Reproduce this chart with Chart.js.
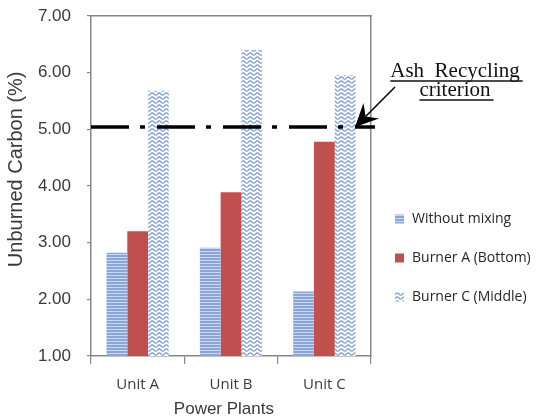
<!DOCTYPE html>
<html>
<head>
<meta charset="utf-8">
<script src="https://cdn.jsdelivr.net/npm/chart.js@4.4.1/dist/chart.umd.min.js"></script>
<style>
  html, body { margin: 0; padding: 0; background: #fff; }
  #wrap { width: 537px; height: 420px; position: relative; }
</style>
</head>
<body>
<div id="wrap"><canvas id="carbon-chart"></canvas></div>
<script>
const units = ["Unit A", "Unit B", "Unit C"];
const seriesNames = ["Without mixing", "Burner A (Bottom)", "Burner C (Middle)"];
const withoutMixing = [2.82, 2.91, 2.14];
const burnerA = [3.2, 3.89, 4.78];
const burnerC = [5.68, 6.4, 5.96];
const yTicks = [1, 2, 3, 4, 5, 6, 7];
const criterion = 5.04;
const noteLines = ["Ash  Recycling", "criterion"];

const canvas = document.getElementById("carbon-chart");
const ctx = canvas.getContext("2d");

const Config = {
  colors: {
    axis: "#868686",
    text: "#3a3a3a",
    red: "#c0504d",
    stripe: "#8aa6d8",
    stripeLight: "#cbd8ef",
    wave: "#7f9dd3",
  },
  sans: "'Liberation Sans', Arial, sans-serif",
  ui: "'Open Sans', sans-serif",
  serif: "'Liberation Serif', 'Times New Roman', serif",
};

const makePattern = (w, h, paint) => {
  const c = document.createElement("canvas");
  c.width = w;
  c.height = h;
  paint(c.getContext("2d"), w, h);
  return ctx.createPattern(c, "repeat");
};

// horizontal lines
const stripes = makePattern(4, 3, (g, w, h) => {
  g.fillStyle = Config.colors.stripeLight;
  g.fillRect(0, 0, w, h);
  g.fillStyle = Config.colors.stripe;
  g.fillRect(0, 0, w, 2);
});

// wavy lines on white
const waves = makePattern(7, 4, (g, w, h) => {
  g.fillStyle = "#ffffff";
  g.fillRect(0, 0, w, h);
  g.strokeStyle = Config.colors.wave;
  g.lineWidth = 1.3;
  g.beginPath();
  for (let x = -1; x <= w + 1; x += 0.5) {
    const y = h / 2 + 1.1 * Math.sin((x / w) * 2 * Math.PI);
    if (x === -1) g.moveTo(x, y);
    else g.lineTo(x, y);
  }
  g.stroke();
});

const overlay = {
  id: "overlay",
  afterDatasetsDraw(chart) {
    const { ctx: c, chartArea: area, scales } = chart;
    const yc = scales.y.getPixelForValue(criterion);
    c.save();

    // criterion dash-dot line
    c.strokeStyle = "#000";
    c.lineWidth = 3.5;
    c.setLineDash([38, 11, 5, 12]);
    c.beginPath();
    c.moveTo(area.left, yc);
    c.lineTo(area.right + 4, yc);
    c.stroke();
    c.setLineDash([]);

    // arrow
    const tipX = area.right - 16, tipY = yc;
    const fromX = area.right + 24, fromY = yc - 40;
    const ang = Math.atan2(tipY - fromY, tipX - fromX);
    c.lineWidth = 1.5;
    c.beginPath();
    c.moveTo(fromX, fromY);
    c.lineTo(tipX - 15 * Math.cos(ang), tipY - 15 * Math.sin(ang));
    c.stroke();
    const len = 23, half = 11;
    const bx = tipX - len * Math.cos(ang), by = tipY - len * Math.sin(ang);
    const nx = -Math.sin(ang), ny = Math.cos(ang);
    c.fillStyle = "#000";
    c.beginPath();
    c.moveTo(tipX, tipY);
    c.lineTo(bx + nx * half, by + ny * half);
    c.lineTo(tipX - 15 * Math.cos(ang), tipY - 15 * Math.sin(ang));
    c.lineTo(bx - nx * half, by - ny * half);
    c.closePath();
    c.fill();

    // note text, underlined
    const cx = area.right + 84;
    c.font = "21px " + Config.serif;
    c.textAlign = "center";
    c.textBaseline = "alphabetic";
    c.fillStyle = "#111";
    c.strokeStyle = "#111";
    c.lineWidth = 1.4;
    noteLines.forEach((t, i) => {
      const base = yc - 50 + i * 19;
      c.fillText(t, cx, base);
      const w = c.measureText(t).width;
      c.beginPath();
      c.moveTo(cx - w / 2, base + 4);
      c.lineTo(cx + w / 2 + 3, base + 4);
      c.stroke();
    });

    // legend
    const lx = area.right + 24;
    c.font = "14px " + Config.ui;
    c.textAlign = "left";
    c.textBaseline = "middle";
    chart.data.datasets.forEach((ds, i) => {
      const ly = 219 + i * 39;
      c.fillStyle = ds.backgroundColor;
      c.fillRect(lx, ly - 4.5, 9, 9);
      c.fillStyle = "#262626";
      c.fillText(ds.label, lx + 17, ly);
    });

    c.restore();
  },
};

new Chart(ctx, {
  type: "bar",
  data: {
    labels: units,
    datasets: [
      { label: seriesNames[0], data: withoutMixing, backgroundColor: stripes },
      { label: seriesNames[1], data: burnerA, backgroundColor: Config.colors.red },
      { label: seriesNames[2], data: burnerC, backgroundColor: waves },
    ],
  },
  options: {
    responsive: true,
    maintainAspectRatio: false,
    animation: false,
    layout: { padding: { top: 16, right: 166, left: 0, bottom: 0 } },
    datasets: { bar: { categoryPercentage: 0.667, barPercentage: 1 } },
    plugins: {
      legend: { display: false },
      tooltip: { enabled: false },
    },
    scales: {
      x: {
        grid: { drawOnChartArea: false, tickLength: 8, color: Config.colors.axis, lineWidth: 1.2 },
        border: { color: Config.colors.axis, width: 1.5 },
        ticks: { padding: 12, color: Config.colors.text, font: { family: Config.ui, size: 15 } },
        title: {
          display: true,
          text: "Power Plants   ",
          color: Config.colors.text,
          font: { family: Config.sans, size: 17 },
          padding: { top: 0, bottom: 0 },
        },
        afterFit: (s) => { s.height = 64; },
      },
      y: {
        min: 1,
        max: 7,
        afterBuildTicks: (s) => { s.ticks = yTicks.map((v) => ({ value: v })); },
        grid: { drawOnChartArea: false, tickLength: 4, color: Config.colors.axis, lineWidth: 1.2 },
        border: { color: Config.colors.axis, width: 1.5 },
        ticks: {
          padding: 16,
          color: Config.colors.text,
          font: { family: Config.sans, size: 17 },
          callback: (v) => Number(v).toFixed(2),
        },
        title: {
          display: true,
          text: "      Unburned Carbon (%)",
          color: Config.colors.text,
          font: { family: Config.sans, size: 20 },
          padding: { top: 4, bottom: 0 },
        },
        afterFit: (s) => {
          s.width = 91;
          s.paddingTop = 0;
          s.paddingBottom = 0;
        },
      },
      x2: {
        position: "top",
        grid: { display: false },
        ticks: { display: false },
        border: { color: Config.colors.axis, width: 1.5 },
        afterFit: (s) => { s.height = 0; },
      },
      y2: {
        position: "right",
        grid: { display: false },
        ticks: { display: false },
        border: { color: Config.colors.axis, width: 1.5 },
        afterFit: (s) => {
          s.width = 0;
          s.paddingTop = 0;
          s.paddingBottom = 0;
        },
      },
    },
  },
  plugins: [overlay],
});
</script>
</body>
</html>
